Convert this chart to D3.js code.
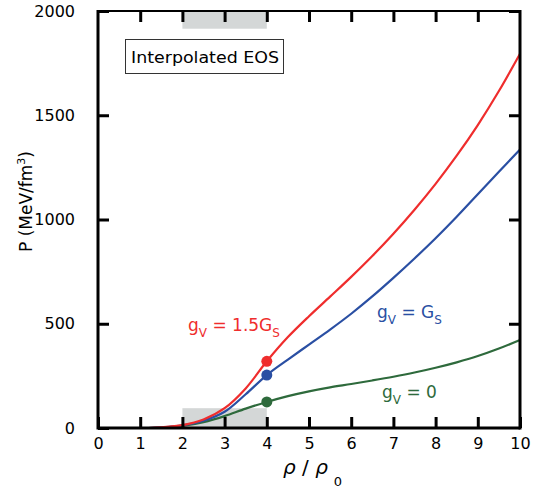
<!DOCTYPE html>
<html><head><meta charset="utf-8">
<script src="https://cdn.jsdelivr.net/npm/d3@7"></script>
<style>body{margin:0;background:#fff}svg{display:block}text{font-family:"DejaVu Sans",sans-serif}</style>
</head><body><div id="chart"></div>
<script>
const densities = [1.2, 1.5, 2.0, 2.5, 3.0, 3.5, 4.0, 4.5, 5.0, 5.5, 6.0, 6.5, 7.0, 7.5, 8.0, 8.5, 9.0, 9.5, 10.0];
const pressureRed   = [0, 3, 14, 41, 95, 190, 320, 436, 536, 630, 725, 825, 932, 1047, 1171, 1306, 1453, 1616, 1795];
const pressureBlue  = [0, 3, 13, 35, 78, 162, 254, 328, 400, 472, 548, 631, 720, 813, 910, 1013, 1121, 1229, 1336];
const pressureGreen = [0, 2, 10, 28, 57, 93, 125, 153, 176, 195, 211, 228, 246, 266, 289, 315, 345, 381, 422];
const markerX = 4;
const markerRed = 320, markerBlue = 254, markerGreen = 125;
const xTicks = [0,1,2,3,4,5,6,7,8,9,10];
const yTicks = [0,500,1000,1500,2000];
const shadeX = [2, 4];
const shadeBottomTop = 95;
const shadeTopBottom = 1915;

const W = 548, H = 490;
const svg = d3.select("#chart").append("svg").attr("width", W).attr("height", H);
const x = d3.scaleLinear().domain([0, 10]).range([98, 520]);
const y = d3.scaleLinear().domain([0, 2000]).range([428, 11]);

// shaded regions
svg.append("rect").attr("x", x(shadeX[0])).attr("width", x(shadeX[1]) - x(shadeX[0]))
  .attr("y", y(shadeBottomTop)).attr("height", y(0) - y(shadeBottomTop)).attr("fill", "#d4d7d7");
svg.append("rect").attr("x", x(shadeX[0])).attr("width", x(shadeX[1]) - x(shadeX[0]))
  .attr("y", y(2000)).attr("height", y(shadeTopBottom) - y(2000)).attr("fill", "#d4d7d7");

// curves
const line = d3.line().x(d => x(d[0])).y(d => y(d[1])).curve(d3.curveCatmullRom.alpha(0.5));
const series = [
  {vals: pressureGreen, color: "#2e6a3c", m: markerGreen},
  {vals: pressureBlue, color: "#2a4fa3", m: markerBlue},
  {vals: pressureRed, color: "#ef2d2d", m: markerRed}
];
series.forEach(s => {
  svg.append("path").datum(densities.map((d, i) => [d, s.vals[i]]))
    .attr("d", line).attr("fill", "none").attr("stroke", s.color).attr("stroke-width", 2.2);
});
series.forEach(s => {
  svg.append("circle").attr("cx", x(markerX)).attr("cy", y(s.m)).attr("r", 5.5).attr("fill", s.color);
});

// axes frame
const axisG = svg.append("g").attr("stroke", "#000");
axisG.append("line").attr("x1", x(0)).attr("x2", x(10)).attr("y1", y(2000)).attr("y2", y(2000)).attr("stroke-width", 2);
axisG.append("line").attr("x1", x(0)).attr("x2", x(10)).attr("y1", y(0)).attr("y2", y(0)).attr("stroke-width", 3);
axisG.append("line").attr("x1", x(0)).attr("x2", x(0)).attr("y1", y(0) + 1.5).attr("y2", y(2000) - 1).attr("stroke-width", 3);
axisG.append("line").attr("x1", x(10)).attr("x2", x(10)).attr("y1", y(0) + 1.5).attr("y2", y(2000) - 1).attr("stroke-width", 3);

const tl = 11;
const fmt = d3.format("d");
const xb = d3.axisBottom(x).tickValues(xTicks).tickFormat(fmt).tickSizeInner(-tl).tickSizeOuter(0).tickPadding(tl + 8);
const gb = svg.append("g").attr("transform", `translate(0,${y(0)})`).call(xb);
const xt = d3.axisTop(x).tickValues(xTicks.slice(1, -1)).tickSizeInner(-tl).tickSizeOuter(0).tickFormat("");
const gt = svg.append("g").attr("transform", `translate(0,${y(2000)})`).call(xt);
const yl = d3.axisLeft(y).tickValues(yTicks).tickFormat(fmt).tickSizeInner(-tl).tickSizeOuter(0).tickPadding(tl + 12);
const gl = svg.append("g").attr("transform", `translate(${x(0)},0)`).call(yl);
const yr = d3.axisRight(y).tickValues(yTicks.slice(1)).tickSizeInner(-tl).tickSizeOuter(0).tickFormat("");
const gr = svg.append("g").attr("transform", `translate(${x(10)},0)`).call(yr);
[gb, gt, gl, gr].forEach(g => {
  g.select(".domain").remove();
  g.selectAll(".tick line").attr("stroke", "#000").attr("stroke-width", 3);
  g.selectAll(".tick text").attr("fill", "#000").style("font-size", "16px").style("font-family", '"DejaVu Sans",sans-serif');
});
gb.selectAll(".tick text").attr("dy", "0.1em");

// axis titles
const yt = svg.append("text").attr("transform", "translate(32,252) rotate(-90)")
  .attr("fill", "#000").style("font-size", "17px");
yt.append("tspan").text("P (MeV/fm");
yt.append("tspan").attr("dy", -7).style("font-size", "11px").text("3");
yt.append("tspan").attr("dy", 7).text(")");

const xtitle = svg.append("text").attr("x", 283).attr("y", 474).attr("fill", "#000").style("font-size", "20px");
xtitle.append("tspan").style("font-style", "italic").text("ρ");
xtitle.append("tspan").text(" / ");
xtitle.append("tspan").style("font-style", "italic").text("ρ");
xtitle.append("tspan").attr("dx", 6).attr("dy", 12).style("font-size", "13px").text("0");

// legend box
svg.append("rect").attr("x", 125.5).attr("y", 39.5).attr("width", 158).attr("height", 34)
  .attr("fill", "#fff").attr("stroke", "#333").attr("stroke-width", 1);
svg.append("text").attr("x", 205).attr("y", 63).attr("text-anchor", "middle").attr("fill", "#000")
  .attr("textLength", 148).attr("lengthAdjust", "spacingAndGlyphs")
  .style("font-size", "16px").text("Interpolated EOS");

// curve labels
function label(xp, yp, color, main, sub1, mid, sub2) {
  const t = svg.append("text").attr("x", xp).attr("y", yp).attr("fill", color)
    .style("font-size", "17px");
  t.append("tspan").text(main);
  t.append("tspan").attr("dy", 6).style("font-size", "12px").text(sub1);
  t.append("tspan").attr("dy", -6).text(mid);
  if (sub2) t.append("tspan").attr("dy", 6).style("font-size", "12px").text(sub2);
}
label(188, 331, "#ef2d2d", "g", "V", " = 1.5G", "S");
label(377, 318, "#2a4fa3", "g", "V", " = G", "S");
label(382, 398, "#2e6a3c", "g", "V", " = 0", null);
</script></body></html>
